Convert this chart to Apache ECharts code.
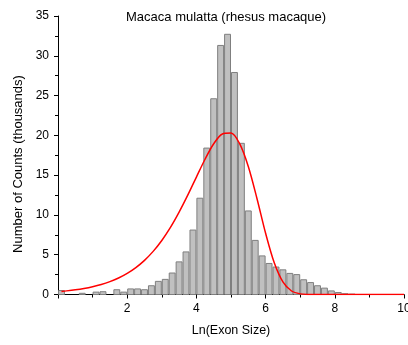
<!DOCTYPE html>
<html>
<head>
<meta charset="utf-8">
<script src="https://cdn.jsdelivr.net/npm/echarts@6/dist/echarts.min.js"></script>
<style>
html,body{margin:0;padding:0;background:#fff;}
#chart{width:408px;height:345px;}
</style>
</head>
<body>
<div id="chart"></div>
<script>
// Histogram bins (left edge, right edge) and counts in thousands
const binLeft  = [0.0,0.2,0.4,0.6,0.8,1.0,1.2,1.4,1.6,1.8,2.0,2.2,2.4,2.6,2.8,3.0,3.2,3.4,3.6,3.8,4.0,4.2,4.4,4.6,4.8,5.0,5.2,5.4,5.6,5.8,6.0,6.2,6.4,6.6,6.8,7.0,7.2,7.4,7.6,7.8,8.0,8.2,8.4];
const binRight = [0.2,0.4,0.6,0.8,1.0,1.2,1.4,1.6,1.8,2.0,2.2,2.4,2.6,2.8,3.0,3.2,3.4,3.6,3.8,4.0,4.2,4.4,4.6,4.8,5.0,5.2,5.4,5.6,5.8,6.0,6.2,6.4,6.6,6.8,7.0,7.2,7.4,7.6,7.8,8.0,8.2,8.4,8.6];
const counts   = [0.5,0,0,0.15,0,0.3,0.35,0,0.6,0.3,0.7,0.7,0.6,1.1,1.65,1.9,2.7,4.1,5.35,8.1,12.1,18.4,24.6,31.3,32.7,27.9,19.0,10.5,6.8,4.85,3.9,3.45,3.1,2.65,2.5,1.85,1.5,1.1,0.8,0.45,0.25,0.1,0.05];

// Fitted curve
const fitX = [0.1,0.25,0.5,0.75,1.0,1.25,1.5,1.75,2.0,2.25,2.5,2.75,3.0,3.25,3.5,3.75,4.0,4.25,4.5,4.75,5.0,5.25,5.5,5.75,6.0,6.25,6.5,6.75,7.0,7.25,7.5,8.0,9.0,10.0];
const fitY = [0.39,0.455,0.59,0.76,0.98,1.26,1.62,2.07,2.65,3.38,4.29,5.42,6.79,8.43,10.35,12.48,14.76,17.0,18.94,20.17,20.29,18.95,16.08,12.07,7.70,3.99,1.59,0.44,0.08,0.01,0,0,0,0];

const xTicks = [2,4,6,8,10];
const titleText = 'Macaca mulatta (rhesus macaque)';
const xName = 'Ln(Exon Size)';
const yName = 'Number of Counts (thousands)';

const histData = binLeft.map((l,i)=>[l, binRight[i], counts[i]]);
const fitData = fitX.map((x,i)=>[x, fitY[i]]);

const chart = echarts.init(document.getElementById('chart'));
const FONT = 'Liberation Sans, Arial, sans-serif';
chart.setOption({
  animation:false,
  backgroundColor:'#fff',
  title:{text:titleText,left:121,top:6,textStyle:{fontFamily:FONT,fontSize:13,fontWeight:'normal',color:'#000'}},
  graphic:[{type:'text',x:18,y:164,rotation:Math.PI/2,
    style:{text:yName,fontFamily:FONT,fontSize:13,fill:'#000',align:'center',verticalAlign:'middle'}}],
  grid:{left:58,right:4,top:16,bottom:50.5,containLabel:false,outerBoundsMode:'none'},
  xAxis:{type:'value',min:0,max:10,interval:2,
    name:xName,nameLocation:'middle',nameGap:30,
    nameTextStyle:{fontFamily:FONT,fontSize:12.5,color:'#000'},
    axisLine:{show:true,onZero:false,lineStyle:{color:'#000',width:1}},
    axisTick:{show:true,inside:false,length:4,lineStyle:{color:'#000'}},
    minorTick:{show:true,splitNumber:2,length:3,lineStyle:{color:'#000'}},
    splitLine:{show:false},
    axisLabel:{fontFamily:FONT,fontSize:12,color:'#000',margin:8,hideOverlap:false,
      formatter:v=>xTicks.indexOf(v)>=0?String(v):''}
  },
  yAxis:{type:'value',min:0,max:35,interval:5,
    axisLine:{show:true,lineStyle:{color:'#000',width:1}},
    axisTick:{show:true,inside:false,length:4,lineStyle:{color:'#000'}},
    minorTick:{show:true,splitNumber:2,length:3,lineStyle:{color:'#000'}},
    splitLine:{show:false},
    axisLabel:{fontFamily:FONT,fontSize:12,color:'#000',margin:9}
  },
  series:[
    {type:'custom',
     renderItem:function(params,api){
       const p0=api.coord([api.value(0),api.value(2)]);
       const p1=api.coord([api.value(1),0]);
       if(api.value(2)<=0) return null;
       return {type:'rect',shape:{x:p0[0]+0.5,y:p0[1],width:p1[0]-p0[0]-1,height:p1[1]-p0[1]},
         style:{fill:'#c0c0c0',stroke:'#7f7f7f',lineWidth:1}};
     },
     encode:{x:[0,1],y:2},
     data:histData,z:2},
    {type:'line',data:fitData,smooth:0.3,showSymbol:false,
     lineStyle:{color:'#ff0000',width:1.5},z:3}
  ]
});
</script>
</body>
</html>
